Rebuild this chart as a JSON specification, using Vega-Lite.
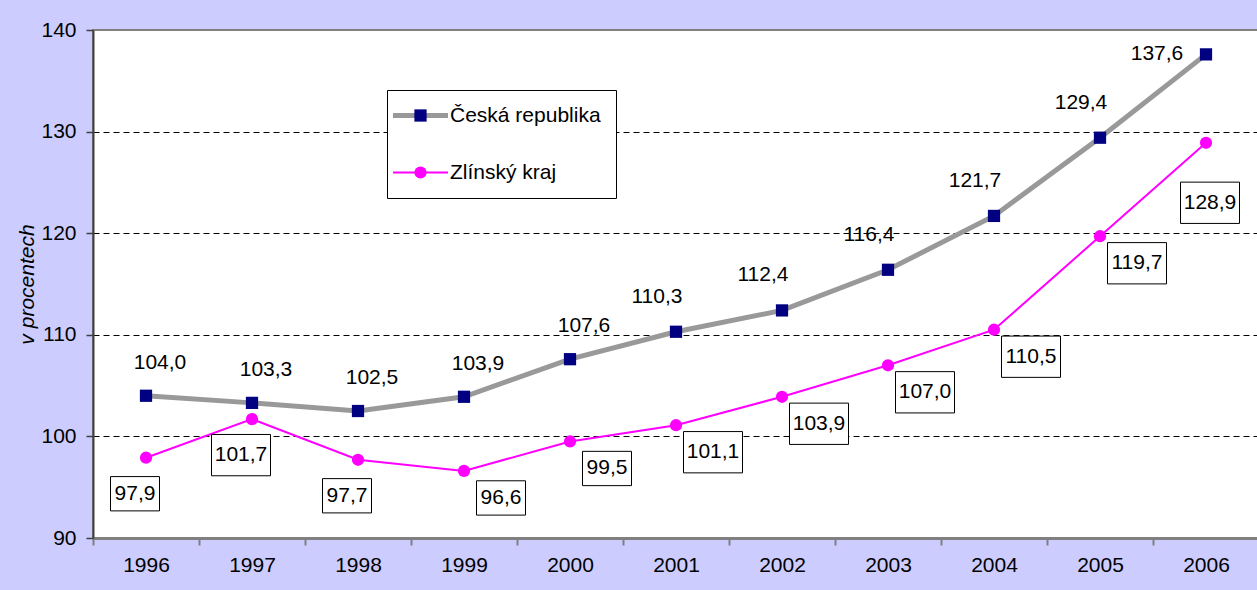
{
  "$schema": "https://vega.github.io/schema/vega-lite/v6.json",
  "width": 1166,
  "height": 508,
  "autosize": {"type": "none"},
  "padding": {"left": 93, "top": 30, "right": 0, "bottom": 52},
  "background": "#CCCCFF",
  "config": {
    "locale": {"number": {"decimal": ",", "thousands": " ", "grouping": [3], "currency": ["", ""]}},
    "font": "Liberation Sans",
    "view": {"fill": "white", "stroke": "#808080", "strokeWidth": 2}
  },
  "data": {
    "values": [
      {"year": 1996, "series": "Česká republika", "value": 104.0},
      {"year": 1997, "series": "Česká republika", "value": 103.3},
      {"year": 1998, "series": "Česká republika", "value": 102.5},
      {"year": 1999, "series": "Česká republika", "value": 103.9},
      {"year": 2000, "series": "Česká republika", "value": 107.6},
      {"year": 2001, "series": "Česká republika", "value": 110.3},
      {"year": 2002, "series": "Česká republika", "value": 112.4},
      {"year": 2003, "series": "Česká republika", "value": 116.4},
      {"year": 2004, "series": "Česká republika", "value": 121.7},
      {"year": 2005, "series": "Česká republika", "value": 129.4},
      {"year": 2006, "series": "Česká republika", "value": 137.6},
      {"year": 1996, "series": "Zlínský kraj", "value": 97.9},
      {"year": 1997, "series": "Zlínský kraj", "value": 101.7},
      {"year": 1998, "series": "Zlínský kraj", "value": 97.7},
      {"year": 1999, "series": "Zlínský kraj", "value": 96.6},
      {"year": 2000, "series": "Zlínský kraj", "value": 99.5},
      {"year": 2001, "series": "Zlínský kraj", "value": 101.1},
      {"year": 2002, "series": "Zlínský kraj", "value": 103.9},
      {"year": 2003, "series": "Zlínský kraj", "value": 107.0},
      {"year": 2004, "series": "Zlínský kraj", "value": 110.5},
      {"year": 2005, "series": "Zlínský kraj", "value": 119.7},
      {"year": 2006, "series": "Zlínský kraj", "value": 128.9}
    ]
  },
  "encoding": {
    "x": {
      "field": "year", "type": "ordinal",
      "scale": {"type": "band", "paddingInner": 0, "paddingOuter": 0},
      "axis": {
        "title": null, "tickBand": "extent", "labelAngle": 0, "labelFontSize": 21, "labelColor": "black",
        "labelPadding": 9, "tickSize": 7, "tickColor": "#808080", "tickWidth": 2,
        "domainColor": "#808080", "domainWidth": 3, "grid": false
      }
    },
    "y": {
      "field": "value", "type": "quantitative",
      "scale": {"domain": [90, 140], "nice": false, "zero": false},
      "axis": {
        "title": "v procentech", "titleFontStyle": "italic", "titleFontWeight": "normal", "titleFontSize": 21,
        "titleColor": "black", "titlePadding": 3, "values": [90, 100, 110, 120, 130, 140],
        "labelFontSize": 21, "labelColor": "black", "labelPadding": 10, "tickSize": 7,
        "tickColor": "#404040", "tickWidth": 1.5, "domainColor": "#404040", "domainWidth": 2,
        "grid": true,
        "gridColor": {"condition": {"test": "datum.value == 90 || datum.value == 140", "value": "transparent"}, "value": "black"},
        "gridDash": [6, 4], "gridWidth": 1
      }
    }
  },
  "layer": [
    {
      "mark": {"type": "line"},
      "encoding": {
        "color": {
          "field": "series", "type": "nominal", "sort": ["Česká republika", "Zlínský kraj"],
          "scale": {"range": ["#999999", "#FF00FF"]},
          "legend": {
            "title": null, "orient": "none", "legendX": 294, "legendY": 60,
            "symbolType": "M-4,0L4,0", "symbolSize": 189, "symbolOffset": 8,
            "labelFontSize": 21, "labelColor": "black", "labelOffset": 19,
            "rowPadding": 35, "padding": 15, "fillColor": "white", "strokeColor": "black",
            "symbolStrokeWidth": 5,
            "encode": {"symbols": {"update": {"strokeWidth": {"signal": "(datum.value === 'Česká republika' ? 5 : 2)"}, "fill": {"value": "transparent"}}}}
          }
        },
        "strokeWidth": {
          "field": "series", "type": "ordinal", "sort": ["Česká republika", "Zlínský kraj"],
          "scale": {"range": [5, 2]}, "legend": null
        }
      }
    },
    {
      "mark": {"type": "point", "filled": true, "size": 150, "opacity": 1},
      "encoding": {
        "fill": {
          "field": "series", "type": "nominal",
          "scale": {"domain": ["Česká republika", "Zlínský kraj"], "range": ["#000080", "#FF00FF"]},
          "legend": {
            "title": null, "orient": "none", "legendX": 294, "legendY": 60, "labelFontSize": 21,
            "labelColor": "transparent", "labelOffset": 19, "rowPadding": 35, "padding": 15,
            "symbolSize": 150, "symbolOffset": 8, "symbolStrokeWidth": 0, "symbolOpacity": 1
          }
        },
        "shape": {
          "field": "series", "type": "nominal",
          "scale": {"domain": ["Česká republika", "Zlínský kraj"], "range": ["square", "circle"]},
          "legend": {
            "title": null, "orient": "none", "legendX": 294, "legendY": 60, "labelFontSize": 21,
            "labelColor": "transparent", "labelOffset": 19, "rowPadding": 35, "padding": 15,
            "symbolSize": 150, "symbolOffset": 8, "symbolStrokeWidth": 0, "symbolOpacity": 1
          }
        }
      }
    },
    {
      "transform": [{"filter": "datum.series == 'Česká republika' && datum.year <= 2000"}],
      "mark": {"type": "text", "dx": 14, "dy": -33, "fontSize": 21, "color": "black", "baseline": "middle", "align": "center"},
      "encoding": {"text": {"field": "value", "type": "quantitative", "format": ".1f"}}
    },
    {
      "transform": [{"filter": "datum.series == 'Česká republika' && datum.year > 2000 && datum.year < 2006"}],
      "mark": {"type": "text", "dx": -19, "dy": -35, "fontSize": 21, "color": "black", "baseline": "middle", "align": "center"},
      "encoding": {"text": {"field": "value", "type": "quantitative", "format": ".1f"}}
    },
    {
      "transform": [{"filter": "datum.series == 'Česká republika' && datum.year == 2006"}],
      "mark": {"type": "text", "dx": -49, "dy": 0, "fontSize": 21, "color": "black", "baseline": "middle", "align": "center"},
      "encoding": {"text": {"field": "value", "type": "quantitative", "format": ".1f"}}
    },
    {
      "transform": [{"filter": "datum.series == 'Zlínský kraj' && datum.year <= 1998"}],
      "mark": {"type": "point", "shape": "M-1,-0.7L1,-0.7L1,0.7L-1,0.7Z", "filled": true, "fill": "white", "stroke": "black", "strokeWidth": 1, "opacity": 1, "xOffset": -11, "yOffset": 36},
      "encoding": {"size": {"field": "value", "type": "quantitative", "scale": {"type": "threshold", "domain": [100], "range": [2401, 3481]}, "legend": null}}
    },
    {
      "transform": [{"filter": "datum.series == 'Zlínský kraj' && datum.year <= 1998"}],
      "mark": {"type": "text", "dx": -11, "dy": 36, "fontSize": 21, "color": "black", "baseline": "middle", "align": "center"},
      "encoding": {"text": {"field": "value", "type": "quantitative", "format": ".1f"}}
    },
    {
      "transform": [{"filter": "datum.series == 'Zlínský kraj' && datum.year > 1998 && datum.year < 2006"}],
      "mark": {"type": "point", "shape": "M-1,-0.7L1,-0.7L1,0.7L-1,0.7Z", "filled": true, "fill": "white", "stroke": "black", "strokeWidth": 1, "opacity": 1, "xOffset": 37, "yOffset": 27},
      "encoding": {"size": {"field": "value", "type": "quantitative", "scale": {"type": "threshold", "domain": [100], "range": [2401, 3481]}, "legend": null}}
    },
    {
      "transform": [{"filter": "datum.series == 'Zlínský kraj' && datum.year > 1998 && datum.year < 2006"}],
      "mark": {"type": "text", "dx": 37, "dy": 27, "fontSize": 21, "color": "black", "baseline": "middle", "align": "center"},
      "encoding": {"text": {"field": "value", "type": "quantitative", "format": ".1f"}}
    },
    {
      "transform": [{"filter": "datum.series == 'Zlínský kraj' && datum.year == 2006"}],
      "mark": {"type": "point", "shape": "M-1,-0.7L1,-0.7L1,0.7L-1,0.7Z", "filled": true, "fill": "white", "stroke": "black", "strokeWidth": 1, "opacity": 1, "xOffset": 4, "yOffset": 60},
      "encoding": {"size": {"field": "value", "type": "quantitative", "scale": {"type": "threshold", "domain": [100], "range": [2401, 3481]}, "legend": null}}
    },
    {
      "transform": [{"filter": "datum.series == 'Zlínský kraj' && datum.year == 2006"}],
      "mark": {"type": "text", "dx": 4, "dy": 60, "fontSize": 21, "color": "black", "baseline": "middle", "align": "center"},
      "encoding": {"text": {"field": "value", "type": "quantitative", "format": ".1f"}}
    }
  ]
}
